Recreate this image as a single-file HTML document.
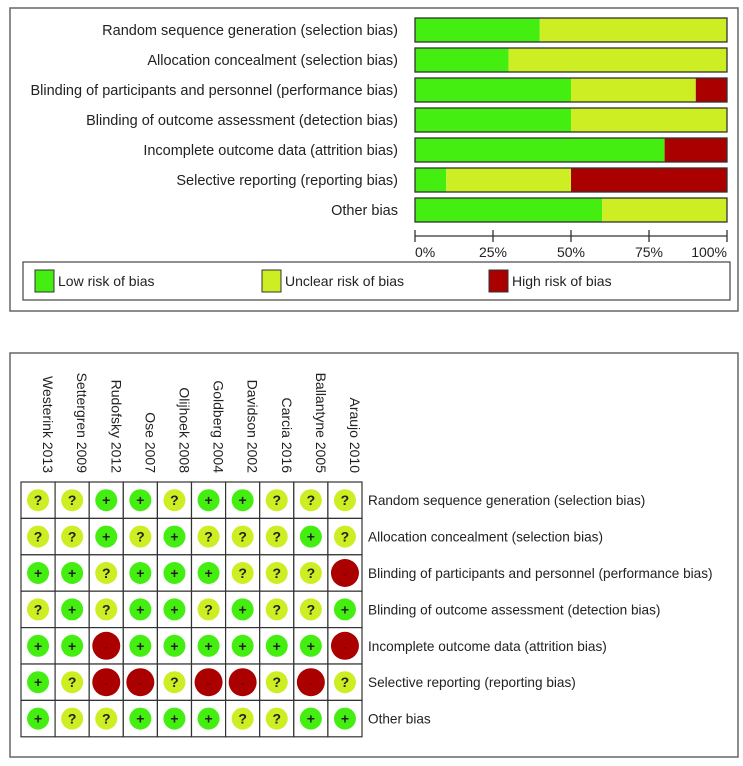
<!DOCTYPE html>
<html><head><meta charset="utf-8"><style>
html,body{margin:0;padding:0;background:#fff;}
svg{display:block;font-family:"Liberation Sans",Arial,sans-serif;}
</style></head><body>
<svg id="chart" width="743" height="766" viewBox="0 0 743 766" xmlns="http://www.w3.org/2000/svg">
<rect x="10" y="8" width="728" height="303" fill="#fff" stroke="#666" stroke-width="1.5"/>
<g id="bars"></g>
<g id="axis"></g>
<rect x="23" y="262" width="707" height="38" fill="#fff" stroke="#444" stroke-width="1.2"/>
<g><rect x="35" y="270" width="19" height="22" fill="#44ee11" stroke="#333"/><text x="58" y="286" font-size="14" fill="#222">Low risk of bias</text></g>
<g><rect x="262" y="270" width="19" height="22" fill="#ccee22" stroke="#333"/><text x="285" y="286" font-size="14" fill="#222">Unclear risk of bias</text></g>
<g><rect x="489" y="270" width="19" height="22" fill="#aa0000" stroke="#333"/><text x="512" y="286" font-size="14" fill="#222">High risk of bias</text></g>
<rect x="10" y="353" width="728" height="404" fill="#fff" stroke="#666" stroke-width="1.5"/>
<g id="grid"></g>
</svg>
<script>
const domains=["Random sequence generation (selection bias)","Allocation concealment (selection bias)","Blinding of participants and personnel (performance bias)","Blinding of outcome assessment (detection bias)","Incomplete outcome data (attrition bias)","Selective reporting (reporting bias)","Other bias"];
const lowPct=[40,30,50,50,80,10,60];
const unclearPct=[60,70,40,50,0,40,40];
const highPct=[0,0,10,0,20,50,0];
const ticks=[0,25,50,75,100];
const studies=["Westerink 2013","Settergren 2009","Rudofsky 2012","Ose 2007","Olijhoek 2008","Goldberg 2004","Davidson 2002","Carcia 2016","Ballantyne 2005","Araujo 2010"];
const judgements=[
"??++?++???",
"??+?+???+?",
"++?+++???-",
"?+?++?+??+",
"++-++++++-",
"+?--?--?-?",
"+??+++??++"];
const NS="http://www.w3.org/2000/svg";
function mk(t,a,p){const e=document.createElementNS(NS,t);for(const k in a)e.setAttribute(k,a[k]);p.appendChild(e);return e;}
const x0=415,x1=727;
const xs=v=>x0+(x1-x0)*v/100;
const ys=i=>18+i*30;
const bars=document.getElementById('bars');
const cols=["#44ee11","#ccee22","#aa0000"];
domains.forEach((d,i)=>{
  const t=mk('text',{x:398,y:ys(i)+17,'font-size':14.5,'text-anchor':'end',fill:'#222'},bars);
  t.textContent=d;
  
  
  let acc=0;
  [lowPct[i],unclearPct[i],highPct[i]].forEach((v,k)=>{
    if(v>0){const r=mk('rect',{x:xs(acc),y:ys(i),width:xs(acc+v)-xs(acc),height:24,fill:cols[k]},bars);
    
    }
    acc+=v;
  });
  const o=mk('rect',{x:x0,y:ys(i),width:x1-x0,height:24,fill:'none',stroke:'#333','stroke-width':1.3},bars);
  
  
});
const ax=document.getElementById('axis');
mk('line',{x1:x0,x2:x1,y1:236,y2:236,stroke:'#333','stroke-width':1.3},ax);
ticks.forEach((t,i)=>{
  mk('line',{x1:xs(t),x2:xs(t),y1:230,y2:242,stroke:'#333','stroke-width':1.3},ax);
  const anchor=i==0?'start':(i==ticks.length-1?'end':'middle');
  const tx=mk('text',{x:xs(t),y:257,'font-size':14,'text-anchor':anchor,fill:'#222'},ax);
  tx.textContent=t+'%';
  
  
});
const g=document.getElementById('grid');
const gx0=21,cw=34.1,gy0=482,rh=36.4;
studies.forEach((s,j)=>{
  const cx=gx0+cw*(j+0.5);
  const t=mk('text',{x:0,y:0,'font-size':14,fill:'#222','text-anchor':'end',transform:`translate(${cx+5},473) rotate(90)`},g);
  t.textContent=s;
  
  
});
domains.forEach((d,i)=>{
  const cy=gy0+rh*(i+0.5);
  const t=mk('text',{x:368,y:cy+5,'font-size':13.6,fill:'#222'},g);
  t.textContent=d;
  
  
  studies.forEach((s,j)=>{
    const cx=gx0+cw*(j+0.5);
    const c=mk('rect',{x:gx0+cw*j,y:gy0+rh*i,width:cw,height:rh,fill:'#fff',stroke:'#333','stroke-width':1.2},g);
    
    
    const v=judgements[i][j];
    const col=v=='+'?'#44ee11':(v=='?'?'#ccee22':'#aa0000');
    const r=v=='-'?14:11;
    const ci=mk('circle',{cx:cx,cy:cy,r:r,fill:col},g);
    
    
    const tt=mk('text',{x:cx,y:cy+5,'font-size':v=='-'?12:14,'font-weight':'bold','text-anchor':'middle',fill:v=='-'?'#770000':'#222'},g);
    tt.textContent=v;
  });
});
</script>
</body></html>
